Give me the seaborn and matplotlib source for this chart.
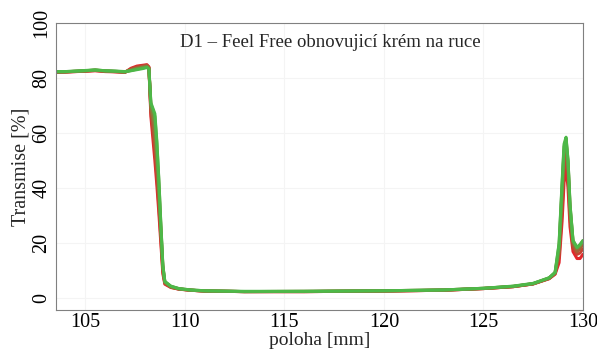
import matplotlib
matplotlib.use('Agg')
import matplotlib.pyplot as plt
import seaborn as sns
import pandas as pd
from matplotlib.ticker import MultipleLocator

# position along the sample [mm], shared by all scans
poloha = [103.5, 104.0, 104.5, 105.0, 105.5, 106.0, 106.5, 107.0, 107.3, 107.6, 107.9, 108.1,
          108.2, 108.3, 108.4, 108.5, 108.6, 108.7, 108.8, 108.9, 109.0,
          109.3, 109.7, 110.3, 111.0, 113.0, 116.0, 120.0, 123.0, 125.0, 126.5, 127.5,
          128.3, 128.6, 128.8, 128.95, 129.05, 129.15, 129.25, 129.35, 129.5, 129.7, 129.85, 130.0]

# transmission of individual scans, first (red) to last (green)
scan_1 = [82.0, 82.1, 82.3, 82.4, 82.6, 82.3, 82.2, 82.0, 83.5, 84.3, 84.6, 84.8,
          84.0, 66.0, 58.0, 50.0, 41.0, 31.0, 20.0, 9.0, 5.2,
          4.0, 3.4, 3.0, 2.7, 2.5, 2.5, 2.7, 3.0, 3.6, 4.3, 5.3,
          7.2, 8.8, 13.0, 28.0, 42.0, 48.0, 40.0, 26.0, 17.0, 14.5, 14.5, 16.0]
scan_2 = [82.1, 82.2, 82.3, 82.5, 82.7, 82.4, 82.3, 82.1, 83.3, 84.0, 84.4, 84.6,
          83.9, 67.5, 61.0, 53.5, 44.0, 33.5, 22.0, 10.0, 5.5,
          4.1, 3.4, 3.0, 2.7, 2.5, 2.5, 2.7, 3.0, 3.6, 4.3, 5.3,
          7.2, 9.0, 15.0, 32.0, 47.0, 52.0, 44.0, 29.0, 18.5, 16.0, 16.5, 18.0]
scan_3 = [82.1, 82.2, 82.4, 82.5, 82.8, 82.5, 82.3, 82.1, 83.0, 83.7, 84.1, 84.4,
          83.7, 68.5, 64.0, 57.0, 48.0, 37.0, 24.0, 11.0, 5.7,
          4.2, 3.5, 3.0, 2.7, 2.5, 2.5, 2.7, 3.0, 3.6, 4.3, 5.3,
          7.3, 9.2, 17.0, 36.0, 51.0, 55.0, 47.0, 31.0, 19.5, 17.0, 18.0, 19.5]
scan_4 = [82.2, 82.2, 82.4, 82.6, 82.8, 82.5, 82.4, 82.2, 82.8, 83.4, 83.8, 84.1,
          83.5, 69.5, 66.5, 62.0, 52.0, 40.0, 25.5, 11.5, 6.0,
          4.3, 3.5, 3.0, 2.7, 2.5, 2.6, 2.8, 3.1, 3.7, 4.4, 5.4,
          7.4, 9.3, 18.0, 39.0, 53.5, 57.0, 49.0, 33.0, 20.5, 18.0, 19.0, 20.5]
scan_5 = [82.2, 82.3, 82.4, 82.6, 82.9, 82.6, 82.4, 82.2, 82.7, 83.2, 83.6, 83.9,
          83.3, 70.5, 68.5, 66.0, 56.0, 42.5, 26.5, 12.0, 6.1,
          4.4, 3.6, 3.1, 2.8, 2.5, 2.6, 2.8, 3.1, 3.7, 4.4, 5.4,
          7.5, 9.4, 19.5, 41.0, 55.0, 58.0, 50.0, 34.0, 21.0, 18.5, 19.5, 21.0]
scan_6 = [82.3, 82.3, 82.5, 82.7, 82.9, 82.6, 82.5, 82.3, 82.6, 83.0, 83.4, 83.8,
          83.2, 71.0, 69.0, 67.0, 57.0, 43.0, 27.0, 12.0, 6.2,
          4.5, 3.6, 3.1, 2.8, 2.6, 2.6, 2.8, 3.1, 3.7, 4.5, 5.5,
          7.5, 9.5, 20.0, 42.0, 56.0, 58.5, 50.0, 34.0, 21.0, 18.5, 19.5, 21.0]

scans = [scan_1, scan_2, scan_3, scan_4, scan_5, scan_6]

rows = []
for i, s in enumerate(scans):
    for x, y in zip(poloha, s):
        rows.append({'poloha': x, 'T': y, 'scan': i})
df = pd.DataFrame(rows)

sns.set_style('white')
plt.rcParams['font.family'] = ['Liberation Serif', 'DejaVu Serif']

fig, ax = plt.subplots(figsize=(5.97, 3.56), dpi=100)
fig.subplots_adjust(left=0.094, right=0.9765, top=0.936, bottom=0.129)

pal = sns.blend_palette(['#e3262b', '#4db848'], len(scans))
sns.lineplot(data=df, x='poloha', y='T', hue='scan', palette=pal, estimator=None,
             sort=False, legend=False, linewidth=2.2, ax=ax)

ax.set_xlim(103.54, 130)
ax.set_ylim(-4.2, 100)
ax.xaxis.set_major_locator(MultipleLocator(5))
ax.xaxis.set_minor_locator(MultipleLocator(1))
ax.yaxis.set_major_locator(MultipleLocator(20))
ax.yaxis.set_minor_locator(MultipleLocator(5))
ax.tick_params(which='both', direction='in', colors='#555555', labelcolor='black', labelsize=14.5)
ax.tick_params(which='major', length=5)
ax.tick_params(which='minor', length=3)
ax.tick_params(axis='x', pad=2)
plt.setp(ax.get_yticklabels(), rotation=90, va='center')
ax.grid(True, color='#f4f4f4', linewidth=0.8)
for sp in ax.spines.values():
    sp.set_color('#808080')

ax.set_xlabel('poloha [mm]', fontsize=14, labelpad=0)
ax.set_ylabel('Transmise [%]', fontsize=14.5, labelpad=1)
ax.text(0.52, 0.93, 'D1 – Feel Free obnovujicí krém na ruce', transform=ax.transAxes,
        ha='center', va='center', fontsize=13.5)

fig.savefig('out.png', dpi=100)
